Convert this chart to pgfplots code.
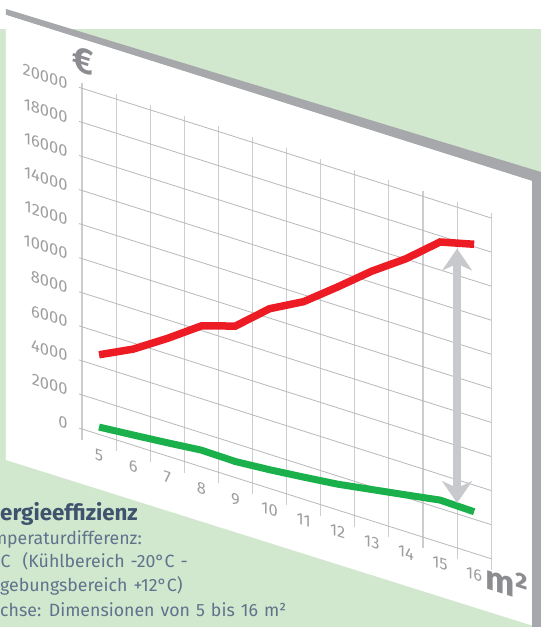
\documentclass[border=0pt]{standalone}
\usepackage{fontspec}
\setmainfont{Fira Sans}
\usepackage{pgfplots}
\pgfplotsset{compat=1.18}
\usetikzlibrary{arrows.meta,backgrounds,calc}
\definecolor{bggreen}{RGB}{210,232,206}
\definecolor{bandgray}{RGB}{167,168,172}
\definecolor{arrowgray}{RGB}{200,201,204}
\definecolor{tickgray}{RGB}{158,158,160}
\definecolor{labgray}{RGB}{140,141,145}
\definecolor{hgrid}{RGB}{185,185,188}
\definecolor{vgrid}{RGB}{205,205,208}
\definecolor{redline}{RGB}{237,28,36}
\definecolor{greenline}{RGB}{26,176,75}
\definecolor{titleblue}{RGB}{61,83,110}
\definecolor{bodyblue}{RGB}{95,115,140}
\newcommand\bodyfont{\fontsize{17.8}{21}\selectfont\spaceskip=0.34em\relax}
\begin{document}
\begin{tikzpicture}
\begin{axis}[
  x={(34.1bp,-10.81bp)}, y={(0bp,0.01705bp)},
  xmin=4.412, xmax=16.5, ymin=-650, ymax=20300,
  axis line style={draw=none},
  xtick={5,...,16},
  minor xtick={4.5,5.5,...,16.5},
  ytick={0,2000,...,20000},
  xmajorgrids=false, xminorgrids=true, ymajorgrids=true,
  major grid style={line width=0.8bp, hgrid},
  minor grid style={line width=1.1bp, vgrid},
  major tick length=0pt, minor tick length=0pt,
  scaled y ticks=false,
  /pgf/number format/assume math mode=true,
  /pgf/number format/1000 sep={},
  ticklabel style={font=\fontsize{16.5}{16.5}\selectfont, text=tickgray},
  yticklabel style={anchor=east, yslant=-0.317, xshift=-8bp},
  xticklabel style={anchor=north, yslant=-0.317, yshift=-1bp},
  clip=false,
]
\coordinate (O) at (axis cs:4.5,0);
\addplot[redline, line width=7.5bp, line join=miter] coordinates {
 (5,4675) (6,5640) (7,6900) (8,8270) (9,8900) (10,10550)
 (11,11600) (12,13100) (13,14660) (14,16020) (15,17640) (16,18140)};
\addplot[greenline, line width=7bp, line join=miter] coordinates {
 (5,430) (6,600) (7,780) (8,980) (9,945) (10,1100)
 (11,1300) (12,1520) (13,1840) (14,2160) (15,2490) (16,2440)};
\draw[arrowgray, line width=8.3bp,
  {Stealth[length=22bp,width=30bp,inset=7bp]}-{Stealth[length=22bp,width=30bp,inset=7bp]}]
  (axis cs:15.5,2633) -- (axis cs:15.5,17570);
\end{axis}
% background (pixel coordinates, origin top-left, y downwards)
\begin{scope}[on background layer, shift={($(O)+(-82bp,429bp)$)}, x=1bp, y=-1bp]
  \fill[white] (0,0) rectangle (541,627);
  \fill[bggreen] (0,29) rectangle (541,627);
  \fill[bandgray] (6,9) -- (541,172) -- (541,627) -- (532,627) -- (532,181) -- (6,15) -- cycle;
  \fill[white] (6,15) -- (532,181) -- (532,625.5) -- (6,460) -- cycle;
\end{scope}
\begin{scope}[shift={($(O)+(-82bp,429bp)$)}, x=1bp, y=-1bp]
  \clip (0,0) rectangle (541,627);
  \node[yslant=-0.317, text=labgray, font=\bfseries\fontsize{36}{36}\selectfont] at (83,61) {€};
  \node[yslant=-0.317, text=labgray, font=\bfseries\fontsize{35}{35}\selectfont] at (507,582) {m²};
  \node[anchor=base west, inner sep=0, text=titleblue, font=\bfseries\fontsize{22.4}{26}\selectfont] at (0,521) {\llap{En}ergieeffizienz};
  \begin{scope}[every node/.style={anchor=base west, inner sep=0, text=bodyblue, font=\bodyfont}]
  \node at (7,545) {\llap{Tem}peraturdifferenz:};
  \node at (0.5,568) {\llap{32°}C\ \ (Kühlbereich -20°C -};
  \node at (0,592) {\llap{Um}gebungsbereich +12°C)};
  \node at (0,617) {\llap{X-A}chse: Dimensionen von 5 bis 16 m²};
  \end{scope}
\end{scope}
\pgfresetboundingbox
\path[use as bounding box] ($(O)+(-82bp,429bp)$) rectangle ($(O)+(459bp,-198bp)$);
\end{tikzpicture}
\end{document}
